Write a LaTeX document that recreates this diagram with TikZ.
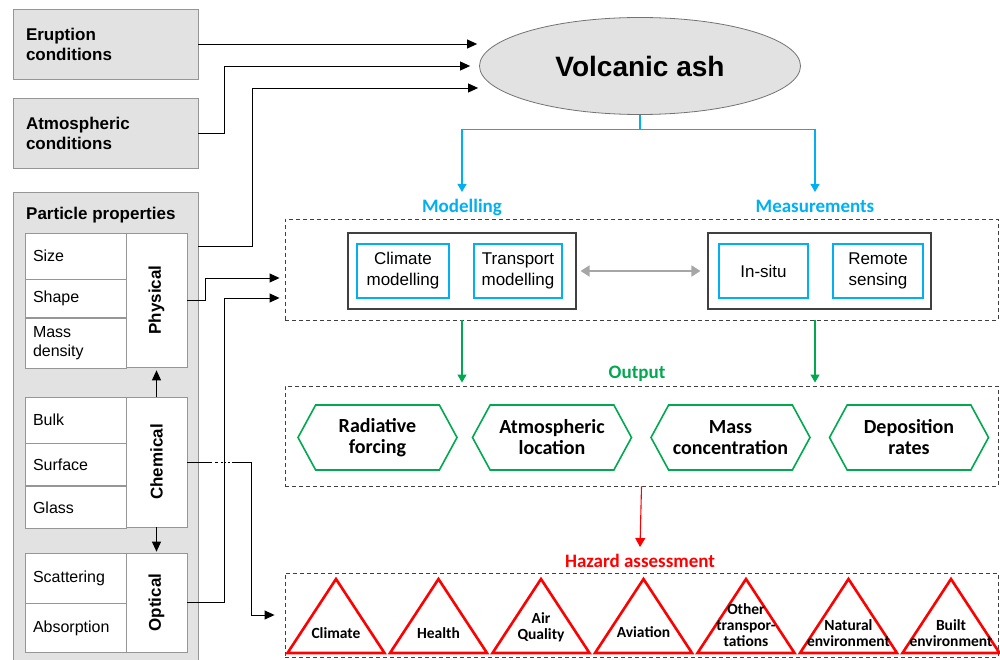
\documentclass[tikz,border=0pt]{standalone}
\usepackage{fontspec}
\setmainfont{Liberation Sans}
\newfontfamily\calfont{Carlito}
\usetikzlibrary{arrows.meta,positioning,shapes.geometric,shapes.symbols}

\definecolor{ashgray}{RGB}{226,226,226}
\definecolor{edgegray}{RGB}{150,150,150}
\definecolor{skyblue}{RGB}{0,176,240}
\definecolor{outgreen}{RGB}{0,168,80}
\definecolor{hazred}{RGB}{255,0,0}
\definecolor{dashgray}{RGB}{64,64,64}

\begin{document}
\begin{tikzpicture}[x=1pt,y=-1pt,>={Triangle[length=10pt,width=9pt]}]
  \tikzstyle{graybox}=[draw=edgegray, fill=ashgray, line width=0.8pt, inner xsep=13pt, text width=159pt, align=left, font=\fontsize{17}{20}\selectfont\bfseries]
  \tikzstyle{cell}=[draw=edgegray, fill=white, line width=0.7pt, inner xsep=8pt, text width=85pt, align=left, font=\fontsize{16}{19}\selectfont]
  \tikzstyle{colcell}=[draw=edgegray, fill=white, line width=0.7pt, minimum width=61pt, inner sep=0pt, font=\fontsize{17}{20}\selectfont\bfseries]
  \tikzstyle{dashbox}=[draw=dashgray, dash pattern=on 4pt off 3pt, line width=0.9pt, minimum width=713pt]
  \tikzstyle{grpbox}=[draw=dashgray, line width=1.1pt, minimum height=76pt]
  \tikzstyle{bluebox}=[draw=skyblue, line width=2.2pt, minimum height=54pt, inner sep=0pt, align=center, font=\fontsize{17}{21}\selectfont]
  \tikzstyle{lbl}=[anchor=north, inner sep=0pt, inner ysep=6pt, text height=14pt, text depth=4pt, font=\calfont\fontsize{19}{22}\selectfont\bfseries]
  \tikzstyle{hexa}=[signal, signal to=east and west, signal pointer angle=123, draw=outgreen, line width=1.6pt, minimum width=159pt, minimum height=65pt, inner sep=0pt, align=center, font=\calfont\fontsize{20}{21}\selectfont\bfseries]
  \tikzstyle{tri}=[draw=hazred, line width=2.6pt]
  \tikzstyle{tritext}=[align=center, inner sep=0pt, font=\calfont\fontsize{15.5}{16}\selectfont\bfseries]
  \tikzstyle{arr}=[->, line width=0.9pt, shorten >=1pt]
  \tikzstyle{bluearr}=[-{Triangle[length=8pt,width=9pt]}, draw=skyblue, line width=1.1pt]
  \tikzstyle{greenarr}=[-{Triangle[length=8pt,width=9pt]}, draw=outgreen, line width=1.1pt, shorten >=3pt]
  \tikzstyle{redarr}=[-{Triangle[length=9pt,width=10pt]}, draw=hazred, line width=1.1pt]

  \useasboundingbox (0,0) rectangle (1000,660);

  % left column
  \node[graybox, minimum height=70pt] (erupt) at (105.5,44) {Eruption\\conditions};
  \node[graybox, minimum height=70pt] (atm) at (105.5,133) {Atmospheric\\conditions};
  \node[graybox, minimum height=472pt] (part) at (105.5,428) {};
  \node[anchor=base west, inner sep=0pt, font=\fontsize{17}{20}\selectfont\bfseries] (part_lbl) at (26,219) {Particle properties};

  \node[cell, minimum height=46pt] (size) at (75.5,256) {Size};
  \node[cell, minimum height=38pt, below=0pt of size] (shape) {Shape};
  \node[cell, minimum height=50pt, below=0pt of shape] (mass) {Mass\\density};
  \node[colcell, minimum height=134pt] (phys) at (156.5,300) {\rotatebox{90}{Physical}};

  \node[cell, minimum height=46pt] (bulk) at (75.5,420) {Bulk};
  \node[cell, minimum height=42pt, below=0pt of bulk] (surf) {Surface};
  \node[cell, minimum height=42pt, below=0pt of surf] (glass) {Glass};
  \node[colcell, minimum height=130pt] (chem) at (156.5,462) {\rotatebox{90}{Chemical}};

  \node[cell, minimum height=50pt] (scat) at (75.5,578) {Scattering};
  \node[cell, minimum height=49pt, below=0pt of scat] (absorp) {Absorption};
  \node[colcell, minimum height=99pt] (opt) at (156.5,602.5) {\rotatebox{90}{Optical}};

  % volcanic ash
  \node[ellipse, draw=black!55, fill=ashgray, line width=0.8pt, minimum width=321pt, minimum height=97pt, inner sep=0pt, font=\fontsize{28}{30}\selectfont\bfseries] (ash) at (640,66) {Volcanic ash};

  % modelling and measurements
  \node[lbl, text=skyblue] (mod_lbl) at (462,192) {Modelling};
  \node[lbl, text=skyblue] (meas_lbl) at (815,192) {Measurements};
  \node[dashbox, minimum height=101pt] (mod_frame) at (641.5,269.5) {};
  \node[grpbox, minimum width=228pt] (mod_grp) at (462,271) {};
  \node[grpbox, minimum width=223pt] (meas_grp) at (819.5,271) {};
  \node[bluebox, minimum width=92pt] (clim) at (403,271) {Climate\\modelling};
  \node[bluebox, minimum width=88.5pt] (trans) at (518,271) {Transport\\modelling};
  \node[bluebox, minimum width=89pt] (insitu) at (763.5,271) {In-situ};
  \node[bluebox, minimum width=90.5pt] (remote) at (878,271) {Remote\\sensing};

  % output
  \node[lbl, anchor=center, text=outgreen] (out_lbl) at (637,373) {Output};
  \node[dashbox, minimum height=100pt] (out_frame) at (641.5,436) {};
  \node[hexa] (rad) at (377.5,437.5) {Radiative\\forcing};
  \node[hexa] (atm_loc) at (552,437.5) {Atmospheric\\location};
  \node[hexa] (mass_conc) at (730.5,437.5) {Mass\\concentration};
  \node[hexa] (depo) at (909,437.5) {Deposition\\rates};

  % hazard assessment
  \node[lbl, text=hazred] (haz_lbl) at (640,547) {Hazard assessment};
  \node[dashbox, minimum height=84pt] (haz_frame) at (641.5,615) {};
  \foreach \lab/\ty [count=\i from 0] in {Climate/633, Health/633, {Air\\Quality}/627, Aviation/632, {Other\\transpor-\\tations}/625, {Natural\\environment}/633, {Built\\environment}/633} {
    \pgfmathsetmacro\cx{336+102.5*\i}
    \draw[tri] (\cx-48.5,653) -- (\cx,579) -- (\cx+48.5,653) -- cycle;
    \node[tritext] (haz_\i) at (\cx,\ty) {\lab};
  }

  % connectors
  \draw[arr, shorten >=2pt] (erupt.east) -- (erupt.east -| ash.west);
  \draw[arr, shorten >=9pt] (atm.east) -- ++(26,0) |- (ash.west);
  \draw[arr] ([yshift=-55pt]part.north east) -- ++(54,0) |- ([yshift=-22pt]ash.west);
  \draw[arr, shorten >=5pt] (phys.east) -- ++(18,0) |- ([yshift=-8.5pt]mod_frame.west);
  \draw[arr, shorten >=5pt] (opt.east) -- ++(37,0) |- ([yshift=-28.5pt]mod_frame.west);
  \draw[arr, shorten >=10pt, dash pattern=on 25pt off 3pt on 3pt off 3pt on 1.5pt off 2pt on 1.5pt off 2pt on 1.5pt off 2pt on 2000pt off 1pt] (chem.east) -- ++(64,0) |- (haz_frame.west);
  \draw[arr, shorten >=3pt] (chem.north) -- (phys.south);
  \draw[arr] (chem.south) -- (opt.north);

  \draw[bluearr] (ash.south) -- ++(0,15) -| (mod_lbl.north);
  \draw[bluearr] (ash.south) -- ++(0,15) -| (meas_lbl.north);
  \draw[<->, draw=black!35, line width=1.8pt, shorten >=7pt, shorten <=4pt, >={Triangle[length=9pt,width=11pt]}] (mod_grp.east) -- (meas_grp.west);
  \draw[greenarr] (mod_frame.south -| mod_lbl) -- (out_frame.north -| mod_lbl);
  \draw[greenarr] (mod_frame.south -| meas_lbl) -- (out_frame.north -| meas_lbl);
  \draw[redarr] (out_frame.south) -- (haz_lbl.north);
\end{tikzpicture}
\end{document}
